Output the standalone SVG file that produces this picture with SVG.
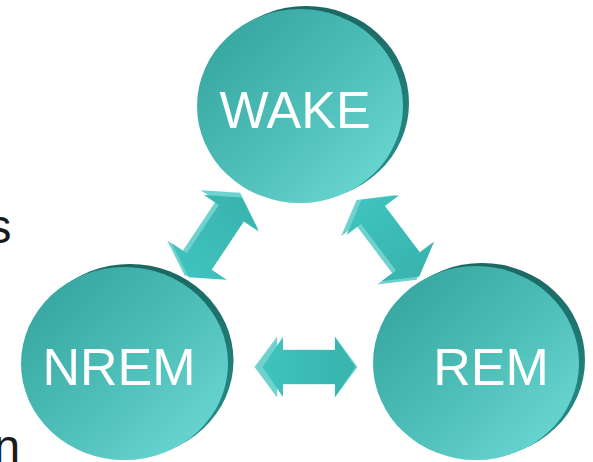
<svg xmlns="http://www.w3.org/2000/svg" width="593" height="462" viewBox="0 0 593 462">
  <defs>
    <linearGradient id="face" x1="0" y1="0" x2="1" y2="1">
      <stop offset="0" stop-color="#31a09a"/>
      <stop offset="0.5" stop-color="#4dbdb7"/>
      <stop offset="1" stop-color="#70dcd8"/>
    </linearGradient>
    <linearGradient id="rim" x1="0" y1="0" x2="0" y2="1">
      <stop offset="0" stop-color="#1b6763"/>
      <stop offset="1" stop-color="#28938d"/>
    </linearGradient>
    <linearGradient id="arrowFace" x1="0" y1="0" x2="1" y2="0">
      <stop offset="0" stop-color="#3fc3be"/>
      <stop offset="1" stop-color="#39b3ae"/>
    </linearGradient>
    <polygon id="diag" points="48,0 29,33 29,15 -29,15 -29,33 -48,0 -29,-33 -29,-15 29,-15 29,-33"/>
    <polygon id="horiz" points="50,0 28,30 28,17 -28,17 -28,30 -50,0 -28,-30 -28,-17 28,-17 28,-30"/>
  </defs>
  <style>
    .rim { fill: url(#rim); }
    .face { fill: url(#face); }
    .label { font-family: "Liberation Sans", Arial, sans-serif; font-size: 52px; fill: #ffffff; }
    .bg { font-family: "Liberation Sans", Arial, sans-serif; font-size: 48px; fill: #1a1a1a; }
    .aback { fill: #6fd2ce; }
    .aface { fill: url(#arrowFace); }
  </style>

  <text class="bg" x="-12.5" y="243">s</text>
  <text class="bg" x="-6.5" y="463">n</text>

  <g id="connectors">
    <g id="wake-nrem" transform="translate(215,236) rotate(-56.3)">
      <use href="#diag" class="aback" transform="translate(0,-3) scale(1.04)"/>
      <use href="#diag" class="aface" transform="translate(-1,1)"/>
    </g>
    <g id="wake-rem" transform="translate(389,238) rotate(53)">
      <use href="#diag" class="aback" transform="translate(0,3) scale(1.04)"/>
      <use href="#diag" class="aface" transform="translate(1,-1)"/>
    </g>
    <g id="nrem-rem" transform="translate(306,367)">
      <use href="#horiz" class="aback" transform="scale(1.03,1.02)"/>
      <use href="#horiz" class="aface" transform="translate(3,0) scale(0.93,1)"/>
    </g>
  </g>

  <g id="wake">
    <ellipse class="rim" cx="306" cy="103" rx="103" ry="97"/>
    <ellipse class="face" cx="300" cy="106" rx="103" ry="97"/>
    <text class="label" x="295" y="128" text-anchor="middle">WAKE</text>
  </g>
  <g id="nrem">
    <ellipse class="rim" cx="130" cy="360.5" rx="103.5" ry="96.5"/>
    <ellipse class="face" cx="124.5" cy="363.5" rx="103.5" ry="96.5"/>
    <text class="label" x="119" y="385" text-anchor="middle">NREM</text>
  </g>
  <g id="rem">
    <ellipse class="rim" cx="482" cy="360" rx="103" ry="97"/>
    <ellipse class="face" cx="476" cy="363" rx="103" ry="97"/>
    <text class="label" x="491" y="385" text-anchor="middle">REM</text>
  </g>
</svg>
